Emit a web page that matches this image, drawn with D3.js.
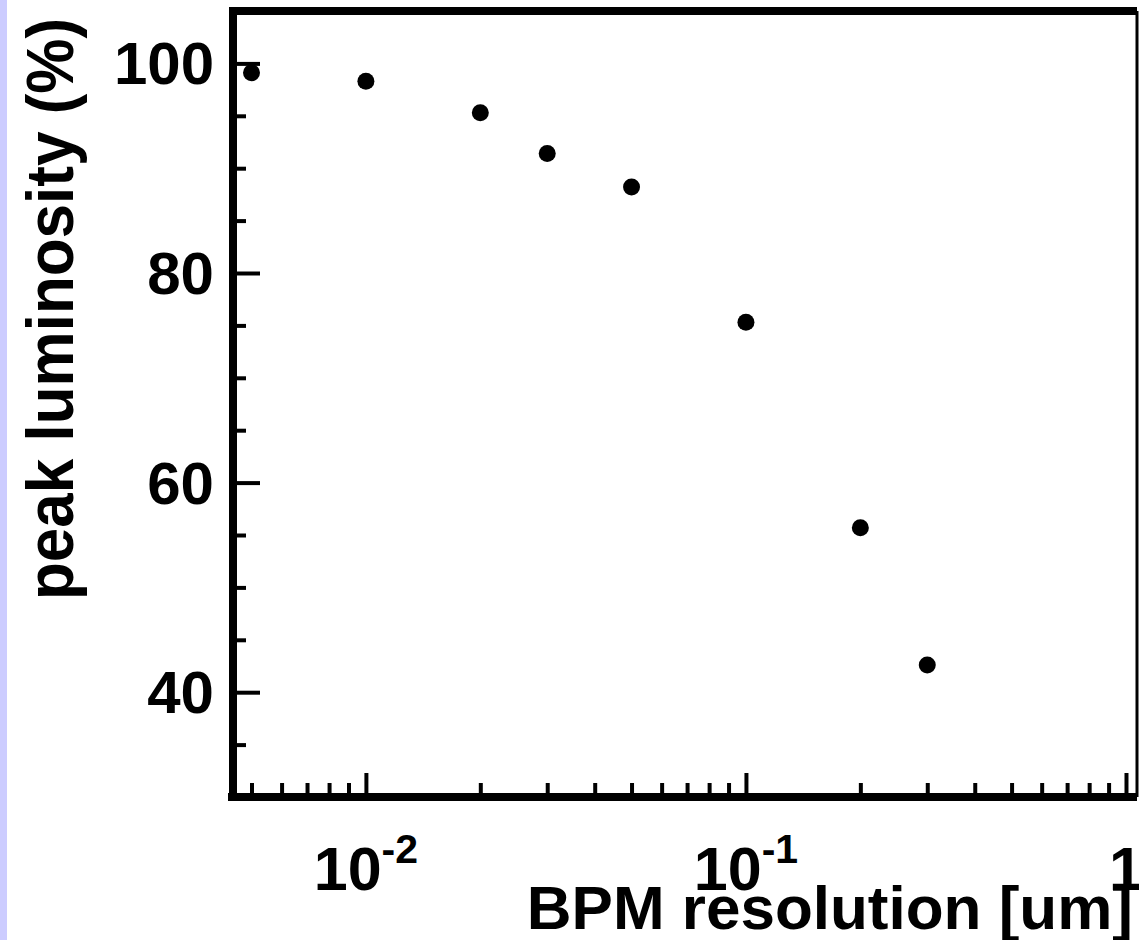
<!DOCTYPE html>
<html>
<head>
<meta charset="utf-8">
<script src="https://cdn.jsdelivr.net/npm/d3@7"></script>
<style>
  body { margin: 0; background: #fff; }
  svg { display: block; }
  text { font-family: "Liberation Sans", Arial, sans-serif; font-weight: bold; fill: #000; }
</style>
</head>
<body>
<div id="chart"></div>
<script>
// data
const resolution = [0.005, 0.01, 0.02, 0.03, 0.05, 0.1, 0.2, 0.3];
const luminosity = [99.1, 98.3, 95.3, 91.4, 88.2, 75.3, 55.7, 42.6];
const yMajorTicks = [40, 60, 80, 100];
const yMinorTicks = [35, 45, 50, 55, 65, 70, 75, 85, 90, 95, 105];
const xMajorTicks = [0.01, 0.1, 1];
const xMinorTicks = [0.005, 0.006, 0.007, 0.008, 0.009, 0.02, 0.03, 0.04, 0.05, 0.06, 0.07, 0.08, 0.09, 0.2, 0.3, 0.4, 0.5, 0.6, 0.7, 0.8, 0.9];
const xTickLabels = [{base: "10", exp: "-2"}, {base: "10", exp: "-1"}, {base: "1", exp: ""}];

const W = 1139, H = 940;
const plotLeft = 233, plotRight = 1137, plotTop = 11, plotBottom = 797;

const svg = d3.select("#chart")
  .append("svg")
    .attr("width", W)
    .attr("height", H);

// lavender strip at the left edge
svg.append("rect")
  .attr("x", 0).attr("y", 0)
  .attr("width", 7).attr("height", H)
  .attr("fill", "#ccccff");

// scales
const x = d3.scaleLog()
  .domain([0.00447, 1.069])
  .range([plotLeft, plotRight]);

const y = d3.scaleLinear()
  .domain([30, 105])
  .range([plotBottom, plotTop]);

// ---- axes (ticks point inward) ----
function styleAxis(g) {
  g.select(".domain").remove();
  g.selectAll(".tick line").attr("stroke", "#000").attr("stroke-width", 4);
  g.selectAll(".tick text").remove();
}

svg.append("g")
  .attr("transform", `translate(0,${plotBottom})`)
  .call(d3.axisBottom(x).tickValues(xMinorTicks).tickSize(-14).tickFormat(""))
  .call(styleAxis);

svg.append("g")
  .attr("transform", `translate(0,${plotBottom})`)
  .call(d3.axisBottom(x).tickValues(xMajorTicks).tickSize(-24).tickFormat(""))
  .call(styleAxis);

svg.append("g")
  .attr("transform", `translate(${plotLeft},0)`)
  .call(d3.axisLeft(y).tickValues(yMinorTicks).tickSize(-13).tickFormat(""))
  .call(styleAxis);

svg.append("g")
  .attr("transform", `translate(${plotLeft},0)`)
  .call(d3.axisLeft(y).tickValues(yMajorTicks).tickSize(-27).tickFormat(""))
  .call(styleAxis);

// frame
svg.append("line").attr("x1", plotLeft - 5).attr("x2", plotRight).attr("y1", plotBottom).attr("y2", plotBottom)
  .attr("stroke", "#000").attr("stroke-width", 8);
svg.append("line").attr("x1", plotLeft).attr("x2", plotLeft).attr("y1", plotTop - 4).attr("y2", plotBottom + 4)
  .attr("stroke", "#000").attr("stroke-width", 8);
svg.append("line").attr("x1", plotLeft).attr("x2", plotRight).attr("y1", plotTop).attr("y2", plotTop)
  .attr("stroke", "#000").attr("stroke-width", 8);
svg.append("line").attr("x1", plotRight).attr("x2", plotRight).attr("y1", plotTop).attr("y2", plotBottom)
  .attr("stroke", "#000").attr("stroke-width", 3);

// y tick labels
svg.selectAll(".ylab")
  .data(yMajorTicks)
  .join("text")
    .attr("class", "ylab")
    .attr("x", 214)
    .attr("y", d => y(d))
    .attr("dy", "0.35em")
    .attr("text-anchor", "end")
    .style("font-size", "60px")
    .text(d => d);

// x tick labels with superscripts
const xl = svg.selectAll(".xlab")
  .data(xMajorTicks)
  .join("text")
    .attr("class", "xlab")
    .attr("x", d => x(d))
    .attr("y", 890)
    .attr("text-anchor", "middle")
    .style("font-size", "61px");
xl.append("tspan").text((d, i) => xTickLabels[i].base);
xl.append("tspan")
  .attr("dy", -27)
  .style("font-size", "41px")
  .text((d, i) => xTickLabels[i].exp);

// axis titles
svg.append("text")
  .attr("x", 1133)
  .attr("y", 929)
  .attr("text-anchor", "end")
  .style("font-size", "62px")
  .text("BPM resolution [um]");

svg.append("text")
  .attr("transform", "translate(73,309) rotate(-90) scale(1,1.08)")
  .attr("text-anchor", "middle")
  .style("font-size", "62px")
  .text("peak luminosity (%)");

// points
svg.append("g")
  .selectAll("circle")
  .data(resolution)
  .join("circle")
    .attr("cx", d => x(d))
    .attr("cy", (d, i) => y(luminosity[i]))
    .attr("r", 8.5)
    .attr("fill", "#000");
</script>
</body>
</html>
